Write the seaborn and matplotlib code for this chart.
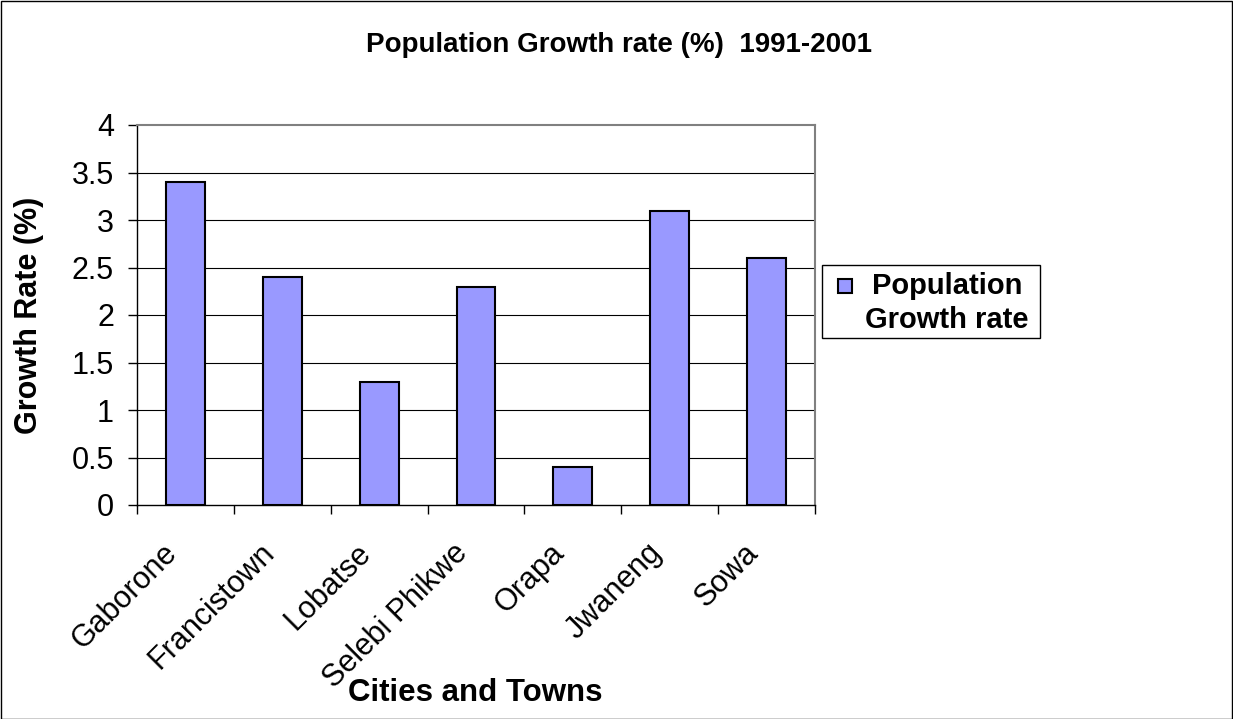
import matplotlib
matplotlib.use("Agg")
import matplotlib.pyplot as plt
import matplotlib.transforms as mtrans
import seaborn as sns
import pandas as pd
from matplotlib.patches import Rectangle

# ------------- DATA -------------
cities = ["Gaborone", "Francistown", "Lobatse", "Selebi Phikwe", "Orapa", "Jwaneng", "Sowa"]
growth = [3.4, 2.4, 1.3, 2.3, 0.4, 3.1, 2.6]
yticks = [0, 0.5, 1, 1.5, 2, 2.5, 3, 3.5, 4]
ytick_labels = ["0", "0.5", "1", "1.5", "2", "2.5", "3", "3.5", "4"]
legend_label = "Population\nGrowth rate"

df = pd.DataFrame({"city": cities, "rate": growth})

sns.set_style("white", rc={"xtick.bottom": True, "ytick.left": True,
                           "text.color": "black", "axes.labelcolor": "black",
                           "xtick.color": "black", "ytick.color": "black"})
plt.rcParams['font.family'] = ['Liberation Sans', 'DejaVu Sans']

BAR = "#9999FF"
W, H = 1233, 719

fig = plt.figure(figsize=(W / 100, H / 100), dpi=100)
ax = fig.add_axes([137 / W, 1 - 505 / H, (815 - 137) / W, (505 - 125) / H])

sns.barplot(data=df, x="city", y="rate", color=BAR, edgecolor="black",
            linewidth=1.5, width=0.4, saturation=1, ax=ax, zorder=3)

ax.set_ylim(0, 4)
ax.set_xlim(-0.5, len(cities) - 0.5)
ax.set_yticks(yticks)
ax.set_yticklabels(ytick_labels, fontsize=22)
for y in yticks[1:-1]:
    ax.axhline(y, color="black", linewidth=0.8, zorder=1)

# x ticks sit between categories; the rotated names are placed at the
# category centres with a small pixel offset (Excel style)
ax.set_xticks([i - 0.5 for i in range(len(cities) + 1)])
ax.set_xticklabels([""] * (len(cities) + 1))
offset = mtrans.ScaledTranslation(-7 / 100, -49 / 100, fig.dpi_scale_trans)
for i, name in enumerate(cities):
    ax.text(i, 0, name, transform=ax.get_xaxis_transform() + offset,
            rotation=45, rotation_mode="anchor", ha="right", va="baseline",
            fontsize=22, clip_on=False)
ax.tick_params(axis="x", which="major", length=6.5, width=1, direction="out")
ax.tick_params(axis="y", length=6.5, width=1, direction="out", pad=10)

for side in ["left", "bottom"]:
    ax.spines[side].set_color("black")
    ax.spines[side].set_linewidth(1)
for side in ["top", "right"]:
    ax.spines[side].set_color("#808080")
    ax.spines[side].set_linewidth(1.5)

ax.set_xlabel("Cities and Towns", fontsize=22.5, fontweight="bold")
ax.set_ylabel("Growth Rate (%)", fontsize=22, fontweight="bold")
ax.xaxis.set_label_coords(0.4985, -0.495)
ax.yaxis.set_label_coords(-0.159, 0.5)
ax.xaxis.label.set_va("center")
ax.yaxis.label.set_va("center")

fig.text(619 / W, 1 - 45 / H, "Population Growth rate (%)  1991-2001", ha="center",
         va="center", fontsize=20, fontweight="bold")

# legend box drawn by hand so the swatch sits on the first line like in Excel
fig.patches.append(Rectangle((822 / W, 1 - 338 / H), 218 / W, 73 / H,
                             transform=fig.transFigure, facecolor="white",
                             edgecolor="black", linewidth=1))
fig.patches.append(Rectangle((838 / W, 1 - 293 / H), 14 / W, 14 / H,
                             transform=fig.transFigure, facecolor=BAR,
                             edgecolor="black", linewidth=1.5))
fig.text(947 / W, 1 - 303 / H, legend_label, ha="center", va="center",
         multialignment="center", fontsize=21, fontweight="bold", linespacing=1.25)

fig.patches.append(Rectangle((0.5 / W, 0.5 / H), 1 - 1.5 / W, 1 - 1.5 / H,
                             transform=fig.transFigure, fill=False,
                             edgecolor="black", linewidth=1))

fig.savefig("out.png", dpi=100)
